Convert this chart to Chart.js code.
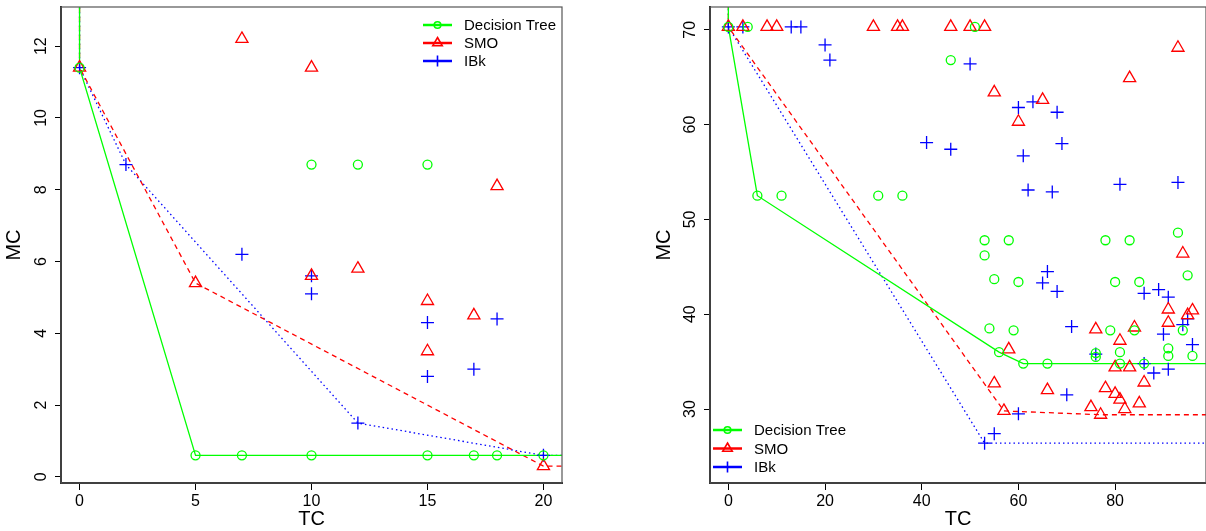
<!DOCTYPE html>
<html lang="en">
<head>
  <meta charset="UTF-8" />
  <title>TC vs MC</title>
  <script src="https://cdn.jsdelivr.net/npm/chart.js"></script>
  <style>
    body {
      margin: 0;
      background: #fff;
      width: 1206px;
      height: 531px;
      position: relative;
      overflow: hidden;
      font-family: 'Liberation Sans', Arial, sans-serif;
    }
    .panel { position: absolute; top: 0; height: 531px; }
    #left { left: 0; width: 580px; }
    #right { left: 650px; width: 556px; }
  </style>
</head>
<body>

  <div class="panel" id="left"><canvas id="leftChart"></canvas></div>
  <div class="panel" id="right"><canvas id="rightChart"></canvas></div>

  <script>
    const seriesNames = ['Decision Tree', 'SMO', 'IBk'];

    // left panel: [TC, MC]
    const leftTree = [[0, 11.4], [5, 0.6], [7, 0.6], [10, 0.6], [15, 0.6], [17, 0.6], [18, 0.6], [20, 0.6],
                      [10, 8.7], [12, 8.7], [15, 8.7]];
    const leftSmo = [[0, 11.4], [7, 12.2], [10, 11.4], [5, 5.4], [10, 5.6], [12, 5.8], [15, 4.9], [15, 3.5],
                     [17, 4.5], [18, 8.1], [20, 0.3]];
    const leftIbk = [[0, 11.4], [2, 8.7], [7, 6.2], [10, 5.6], [10, 5.1], [12, 1.5], [15, 4.3], [15, 2.8],
                     [17, 3.0], [18, 4.4], [20, 0.6]];
    const leftTreeFront = [[0, 11.4], [5, 0.6], [20, 0.6]];
    const leftSmoFront = [[0, 11.4], [5, 5.4], [20, 0.3]];
    const leftIbkFront = [[0, 11.4], [2, 8.7], [12, 1.5], [20, 0.6]];
    const leftXTicks = [0, 5, 10, 15, 20];
    const leftYTicks = [0, 2, 4, 6, 8, 10, 12];
    const leftXRange = [-0.8, 20.8];
    const leftYRange = [-0.17, 13.09];

    // right panel: [TC, MC]
    const rightTree = [[0, 70.3], [4, 70.3], [51, 70.3], [46, 66.8], [6, 52.5], [11, 52.5], [31, 52.5], [36, 52.5],
                       [93, 48.6], [53, 47.8], [58, 47.8], [78, 47.8], [83, 47.8], [53, 46.2], [55, 43.7], [60, 43.4],
                       [80, 43.4], [85, 43.4], [95, 44.1], [54, 38.5], [59, 38.3], [79, 38.3], [84, 38.3], [94, 38.3],
                       [56, 36.0], [61, 34.8], [66, 34.8], [76, 35.9], [76, 35.5], [81, 36.0], [81, 34.8], [86, 34.8],
                       [91, 36.4], [91, 35.6], [96, 35.6]];
    const rightSmo = [[0, 70.3], [3, 70.3], [8, 70.3], [10, 70.3], [30, 70.3], [35, 70.3], [36, 70.3], [46, 70.3],
                      [50, 70.3], [53, 70.3], [93, 68.1], [83, 64.9], [55, 63.4], [65, 62.6], [60, 60.3], [94, 46.4],
                      [91, 40.5], [91, 39.1], [95, 39.9], [96, 40.4], [76, 38.4], [84, 38.6], [81, 37.2], [58, 36.3],
                      [80, 34.4], [83, 34.4], [55, 32.7], [86, 32.8], [66, 32.0], [78, 32.2], [80, 31.6], [81, 31.0],
                      [85, 30.6], [75, 30.2], [82, 30.0], [57, 29.8], [77, 29.4]];
    const rightIbk = [[0, 70.3], [3, 70.3], [13, 70.3], [15, 70.3], [20, 68.4], [21, 66.8], [41, 58.1], [46, 57.4],
                      [50, 66.4], [60, 61.8], [63, 62.4], [68, 61.3], [69, 58.0], [61, 56.7], [62, 53.1], [67, 52.9],
                      [81, 53.7], [93, 53.9], [66, 44.5], [65, 43.3], [68, 42.4], [86, 42.2], [89, 42.6], [91, 41.8],
                      [71, 38.7], [94, 38.9], [95, 39.5], [90, 37.9], [96, 36.8], [76, 35.8], [86, 34.8], [88, 33.8],
                      [91, 34.2], [70, 31.5], [60, 29.5], [55, 27.4], [53, 26.4]];
    const rightTreeFront = [[0, 70.3], [6, 52.5], [56, 36.0], [61, 34.8]];
    const rightSmoFront = [[0, 70.3], [57, 29.8], [77, 29.4]];
    const rightIbkFront = [[0, 70.3], [53, 26.4]];
    const rightXTicks = [0, 20, 40, 60, 80];
    const rightYTicks = [30, 40, 50, 60, 70];
    const rightXRange = [-3.8, 98.8];
    const rightYRange = [22.2, 72.4];

    const styles = [
      { color: '#00ff00', point: 'circle', radius: 4.5, dash: [] },
      { color: '#ff0000', point: 'triangle', radius: 7, dash: [5, 4] },
      { color: '#0000ff', point: 'cross', radius: 6.5, dash: [1.5, 3] }
    ];
    const FONT = "'Liberation Sans', Arial, sans-serif";

    function toXY(arr) {
      return arr.map(p => ({ x: p[0], y: p[1] }));
    }

    // front runs up to the top of the plot and out to the right edge
    function frontLine(front, xRange, yRange) {
      const pts = toXY(front);
      pts.unshift({ x: front[0][0], y: yRange[1] + 5 });
      pts.push({ x: xRange[1] + 5, y: front[front.length - 1][1] });
      return pts;
    }

    function drawSymbol(ctx, kind, x, y, r) {
      ctx.beginPath();
      if (kind === 'circle') {
        ctx.arc(x, y, r, 0, Math.PI * 2);
      } else if (kind === 'triangle') {
        for (let i = 0; i < 3; i++) {
          const a = i * 2 * Math.PI / 3;
          const px = x + Math.sin(a) * r, py = y - Math.cos(a) * r;
          if (i === 0) ctx.moveTo(px, py); else ctx.lineTo(px, py);
        }
        ctx.closePath();
      } else {
        ctx.moveTo(x - r, y); ctx.lineTo(x + r, y);
        ctx.moveTo(x, y - r); ctx.lineTo(x, y + r);
      }
      ctx.stroke();
    }

    const decor = {
      id: 'decor',
      afterDraw(chart, args, opts) {
        const ctx = chart.ctx;
        const a = chart.chartArea;
        ctx.save();
        // box
        ctx.strokeStyle = '#555';
        ctx.lineWidth = 1.2;
        ctx.strokeRect(a.left, a.top, a.right - a.left, a.bottom - a.top);
        // rotated y tick labels
        const ys = chart.scales.y;
        ctx.fillStyle = '#000';
        ctx.font = '16px ' + FONT;
        ctx.textAlign = 'center';
        ctx.textBaseline = 'middle';
        ys.ticks.forEach(t => {
          const py = ys.getPixelForValue(t.value);
          ctx.save();
          ctx.translate(a.left - 19, py);
          ctx.rotate(-Math.PI / 2);
          ctx.fillText(String(t.value), 0, 0);
          ctx.restore();
        });
        // legend
        ctx.font = '15px ' + FONT;
        ctx.textAlign = 'left';
        seriesNames.forEach((name, i) => {
          const y = opts.y + i * opts.gap;
          const s = styles[i];
          ctx.strokeStyle = s.color;
          ctx.lineWidth = 2.5;
          ctx.setLineDash([]);
          ctx.beginPath();
          ctx.moveTo(opts.x, y);
          ctx.lineTo(opts.x + 29, y);
          ctx.stroke();
          ctx.lineWidth = 1.6;
          drawSymbol(ctx, s.point, opts.x + 14.5, y, s.point === 'circle' ? 3.3 : 5.5);
          ctx.fillStyle = '#000';
          ctx.fillText(name, opts.x + 41, y + 1);
        });
        ctx.restore();
      }
    };

    function makeChart(id, pts, fronts, xRange, yRange, xTicks, yTicks, yAxisWidth, rightPad, legendPos) {
      const datasets = [];
      pts.forEach((p, i) => {
        const s = styles[i];
        datasets.push({
          label: seriesNames[i],
          data: toXY(p),
          showLine: false,
          pointStyle: s.point,
          pointRadius: s.radius,
          pointHoverRadius: s.radius,
          pointBorderWidth: 1.3,
          borderColor: s.color,
          backgroundColor: 'rgba(0,0,0,0)'
        });
      });
      fronts.forEach((f, i) => {
        const s = styles[i];
        datasets.push({
          label: seriesNames[i] + ' front',
          data: frontLine(f, xRange, yRange),
          showLine: true,
          pointRadius: 0,
          borderColor: s.color,
          borderWidth: 1.3,
          borderDash: s.dash,
          tension: 0
        });
      });

      return new Chart(document.getElementById(id), {
        type: 'scatter',
        data: { datasets },
        plugins: [decor],
        options: {
          responsive: true,
          maintainAspectRatio: false,
          animation: false,
          layout: { autoPadding: false, padding: { top: 7, right: rightPad, left: 0, bottom: 0 } },
          plugins: {
            legend: { display: false },
            tooltip: { enabled: false },
            decor: legendPos
          },
          scales: {
            x: {
              type: 'linear',
              min: xRange[0],
              max: xRange[1],
              afterBuildTicks: s => { s.ticks = xTicks.map(v => ({ value: v })); },
              afterFit: s => { s.height = 48; s.paddingLeft = 0; s.paddingRight = 0; },
              grid: { drawOnChartArea: false, drawTicks: true, tickLength: 7, color: '#000' },
              border: { display: true, color: '#222', width: 2 },
              ticks: { color: '#000', font: { family: FONT, size: 16 }, padding: 2, maxRotation: 0 },
              title: { display: true, text: 'TC', color: '#000', font: { family: FONT, size: 20 }, padding: 0 }
            },
            y: {
              type: 'linear',
              min: yRange[0],
              max: yRange[1],
              afterBuildTicks: s => { s.ticks = yTicks.map(v => ({ value: v })); },
              afterFit: s => { s.width = yAxisWidth; s.paddingTop = 0; s.paddingBottom = 0; },
              grid: { drawOnChartArea: false, drawTicks: true, tickLength: 6, color: '#000' },
              border: { display: true, color: '#222', width: 2 },
              ticks: { display: false },
              title: { display: true, text: 'MC', color: '#000', font: { family: FONT, size: 20 }, padding: 2 }
            }
          }
        }
      });
    }

    makeChart('leftChart',
      [leftTree, leftSmo, leftIbk],
      [leftTreeFront, leftSmoFront, leftIbkFront],
      leftXRange, leftYRange, leftXTicks, leftYTicks, 61, 18,
      { x: 423, y: 25, gap: 18 });

    makeChart('rightChart',
      [rightTree, rightSmo, rightIbk],
      [rightTreeFront, rightSmoFront, rightIbkFront],
      rightXRange, rightYRange, rightXTicks, rightYTicks, 60, 0,
      { x: 63, y: 430, gap: 18.5 });
  </script>
</body>
</html>
